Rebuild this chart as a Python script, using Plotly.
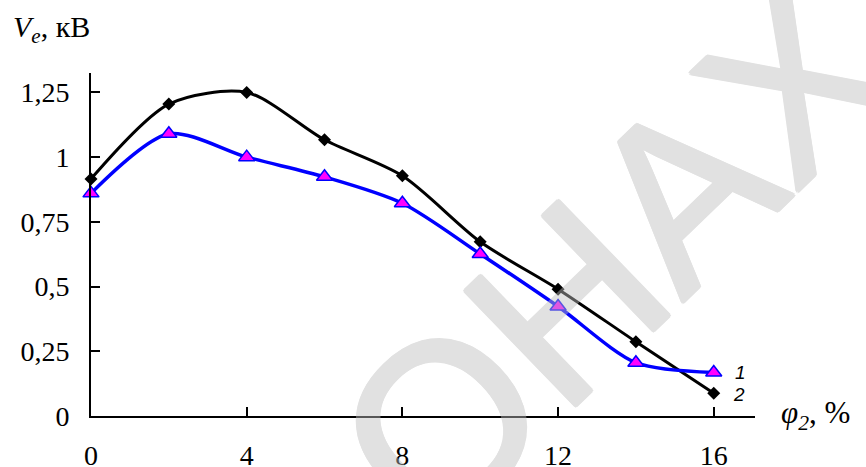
import plotly.graph_objects as go

# Gas content, %
phi2 = [0, 2, 4, 6, 8, 10, 12, 14, 16]
# Curve 1 and curve 2, kV
ve_curve1 = [0.86, 1.09, 1.00, 0.924, 0.822, 0.626, 0.423, 0.206, 0.168]
ve_curve2 = [0.916, 1.205, 1.250, 1.067, 0.928, 0.673, 0.490, 0.287, 0.088]

x_ticks = [0, 4, 8, 12, 16]
y_ticks = [0, 0.25, 0.5, 0.75, 1, 1.25]
y_tick_text = ["0", "0,25", "0,5", "0,75", "1", "1,25"]

W, H = 866, 467
L, R, T, B = 91, 111, 73, 51
X_MAX, Y_MAX = 17.06, 1.325


def px(xp):
    return (xp - L) / (W - L - R)


def py(yp):
    return (H - B - yp) / (H - T - B)


serif = "Liberation Serif"
sans = "Liberation Sans"

fig = go.Figure()

fig.add_trace(go.Scatter(
    x=phi2, y=ve_curve2, mode="lines+markers",
    line=dict(color="black", width=3, shape="spline", smoothing=0.8),
    marker=dict(symbol="diamond", size=10, color="black"),
    cliponaxis=False, showlegend=False,
))
fig.add_trace(go.Scatter(
    x=phi2, y=ve_curve1, mode="lines+markers",
    line=dict(color="#0000ff", width=3.5, shape="spline", smoothing=0.8),
    marker=dict(symbol="triangle-up", size=14, color="#ff00ff",
                line=dict(color="#0000ff", width=1.5)),
    cliponaxis=False, showlegend=False,
))

axis_common = dict(
    showline=True, linecolor="black", linewidth=2,
    ticks="inside", ticklen=9, tickwidth=2, tickcolor="black",
    showgrid=False, zeroline=False, automargin=False,
    tickfont=dict(family=serif, size=28, color="black"),
)

fig.update_xaxes(range=[0, X_MAX], tickvals=x_ticks, ticklabelstandoff=13,
                 **axis_common)
fig.update_yaxes(range=[0, Y_MAX], tickvals=y_ticks, ticktext=y_tick_text,
                 ticklabelstandoff=14, **axis_common)

# thicker strokes for the watermark letters
wm_col = "#bebebe"
wm_shadow = ", ".join(
    f"{dx}px {dy}px 0 {wm_col}"
    for dx, dy in [(2, 0), (-2, 0), (0, 2), (0, -2),
                   (1.5, 1.5), (-1.5, 1.5), (1.5, -1.5), (-1.5, -1.5)]
)

annotations = [
    dict(text="<i>V<sub>e</sub></i>, кВ", x=px(11), y=py(29),
         xanchor="left", yanchor="middle",
         font=dict(family=serif, size=30, color="black")),
    dict(text="<i>φ<sub>2</sub></i>, %", x=px(779), y=py(415),
         xanchor="left", yanchor="middle",
         font=dict(family=serif, size=31, color="black")),
    dict(text="<i>1</i>", x=px(740), y=py(372), xanchor="center",
         yanchor="middle", font=dict(family=sans, size=19, color="black")),
    dict(text="<i>2</i>", x=px(739), y=py(394), xanchor="center",
         yanchor="middle", font=dict(family=sans, size=19, color="black")),
    # watermark
    dict(text="ОНАХ", x=px(612), y=py(258), xanchor="center",
         yanchor="middle", textangle=-44, opacity=0.45,
         font=dict(family=sans, size=232, color=wm_col, shadow=wm_shadow)),
]
for a in annotations:
    a.update(xref="paper", yref="paper", showarrow=False)

fig.update_layout(
    width=W, height=H,
    margin=dict(l=L, r=R, t=T, b=B),
    paper_bgcolor="white", plot_bgcolor="white",
    font=dict(family=serif),
    annotations=annotations,
)

fig.write_html("out.html")
